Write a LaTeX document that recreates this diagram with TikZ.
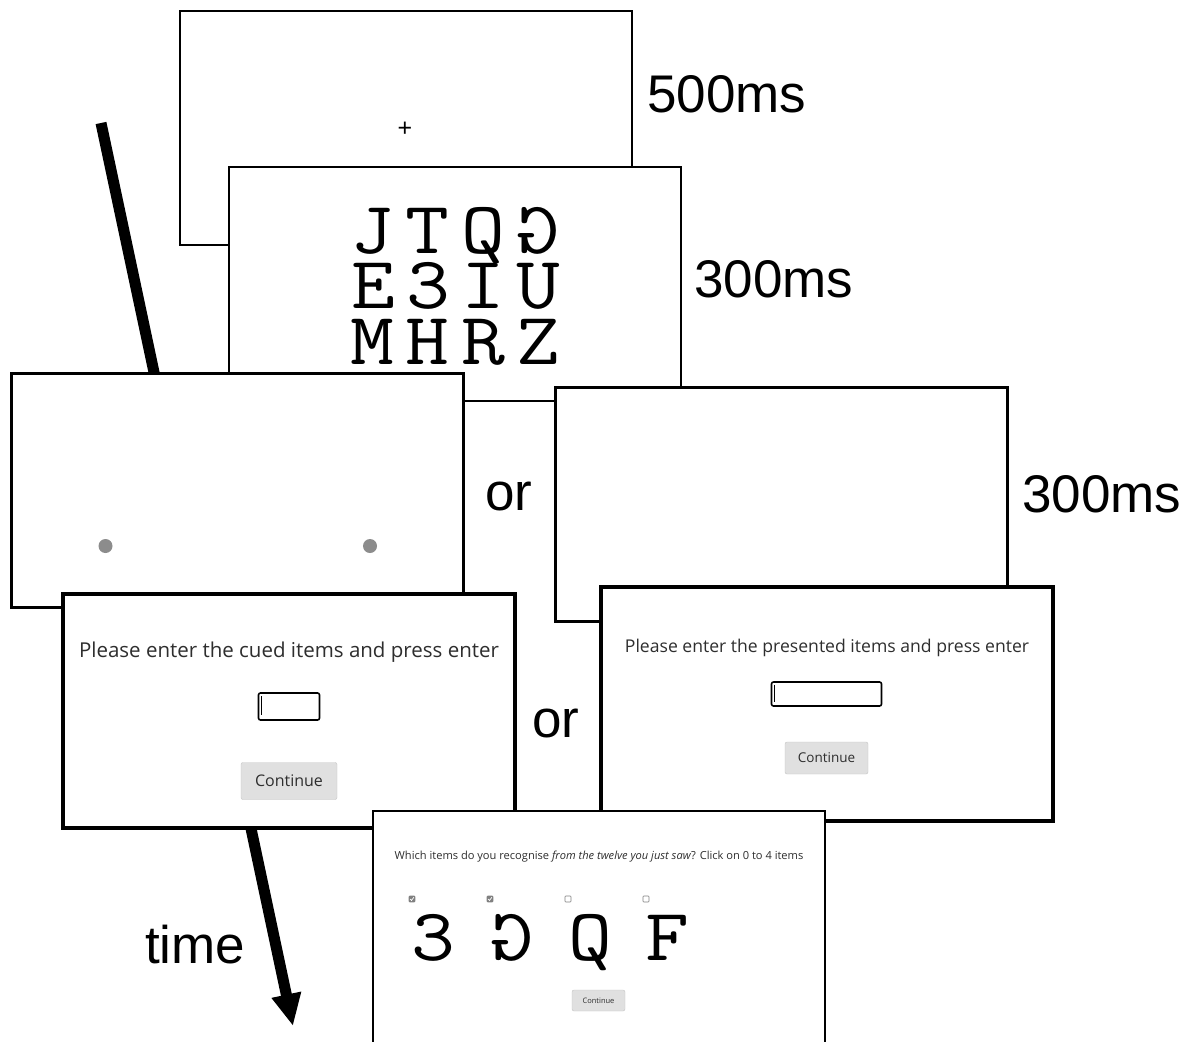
\documentclass[tikz,border=0pt]{standalone}
\usepackage{fontspec}
\usepackage{graphicx}
\setmainfont{Liberation Sans}
\newfontfamily\uifont{Open Sans}
\newfontfamily\letterfont[FakeStretch=1.15]{Latin Modern Mono}
\usetikzlibrary{arrows.meta}
\definecolor{uitext}{HTML}{2E2E2E}
\definecolor{btnfill}{HTML}{E0E0E0}
\definecolor{btnline}{HTML}{C4C4C4}
\definecolor{cuedot}{HTML}{8C8C8C}
\begin{document}
\begin{tikzpicture}[x=1pt, y=-1pt,
  screen/.style={draw, fill=white, line width=2.5pt, minimum width=452, minimum height=234, inner sep=0pt},
  bigscreen/.style={screen, line width=4pt},
  lbl/.style={anchor=base west, inner sep=0pt, font=\fontsize{53}{53}\selectfont},
  glyph/.style={anchor=base, inner sep=0pt, text height=46, text depth=0, font=\letterfont\fontsize{74}{74}\selectfont},
  prompt/.style={inner sep=0pt, text=uitext},
  inbox/.style={draw, line width=1.6pt, rounded corners=2pt, inner sep=0pt},
  button/.style={draw=btnline, fill=btnfill, rounded corners=2pt, text=uitext, inner sep=0pt},
  cbox/.style={draw=gray, line width=0.6pt, minimum size=6, inner sep=0pt, rounded corners=0.8pt}]
\clip (0,0) rectangle (1188,1041);
\fill[white] (0,0) rectangle (1188,1041);

% time line
\coordinate (tstart) at (101,123);
\coordinate (tend) at (293,1026);
\draw[line width=11pt, -{Triangle[length=32pt,width=28pt]}] (tstart) -- (tend);

% fixation
\node[screen] (fix) at (406,128) {};
\node[inner sep=0pt, font=\fontsize{25}{25}\selectfont] (cross) at (405,129) {+};
\node[lbl] (t500) at (647,112) {500ms};

% memory array
\node[screen] (arr) at (455,284) {};
\foreach \ch/\cx/\cy [count=\i] in {J/372/253, T/427/253, Q/483/253, \reflectbox{G}/538/253,
    E/373/308, 3/428/308, I/483/308, U/538/308,
    M/372/364, H/427/364, R/483/364, Z/538/364}
  \node[glyph] (g\i) at (\cx,\cy) {\ch};
\node[lbl] (t300a) at (694,297) {300ms};

% cue and blank
\node[screen] (cue) at (237.5,490.5) {};
\fill[cuedot] (105.5,546) circle (7);
\fill[cuedot] (370,546) circle (7);
\node[lbl] (ora) at (485,510) {or};
\node[screen] (blank) at (781.5,504.5) {};
\node[lbl] (t300b) at (1022,512) {300ms};

% recall screens
\node[bigscreen] (cued) at (289,711) {};
\node[prompt, font=\uifont\fontsize{20.5}{21}\selectfont] (cuedq) at (289,652) {Please enter the cued items and press enter};
\node[inbox, minimum width=61, minimum height=27] (cuedin) at (289,706.5) {};
\draw[line width=1.2pt] ([xshift=4]cuedin.north west) ++(0,4) -- ++(0,19);
\node[button, minimum width=96, minimum height=37, font=\uifont\fontsize{16}{16}\selectfont] (cuedbtn) at (289,781) {Continue};
\node[lbl] (orb) at (532,737) {or};

\node[bigscreen] (pres) at (826.5,703.5) {};
\node[prompt, font=\uifont\fontsize{17.6}{18}\selectfont] (presq) at (827,648) {Please enter the presented items and press enter};
\node[inbox, minimum width=110, minimum height=24] (presin) at (826.5,694) {};
\draw[line width=1.2pt] ([xshift=4]presin.north west) ++(0,3.5) -- ++(0,17);
\node[button, minimum width=83, minimum height=32, font=\uifont\fontsize{13.5}{14}\selectfont] (presbtn) at (826.5,758) {Continue};

% recognition
\node[screen, line width=2pt] (recog) at (599,928) {};
\node[prompt, font=\uifont\fontsize{11.1}{12}\selectfont] (recogq) at (599,857) {Which items do you recognise \textit{from the twelve you just saw}? Click on 0 to 4 items};
\foreach \ch/\cx [count=\i] in {3/433, \reflectbox{G}/512, Q/590, F/667}
  \node[glyph] (r\i) at (\cx,960) {\ch};
\foreach \cx [count=\i] in {412, 490, 568, 646}
  \node[cbox] (cb\i) at (\cx,899) {};
\fill[gray] (cb1.north west) rectangle (cb1.south east);
\fill[gray] (cb2.north west) rectangle (cb2.south east);
\foreach \i in {1,2}
  \draw[white, line width=0.7pt] ([shift={(-1.8,0)}]cb\i.center) -- ([shift={(-0.5,1.5)}]cb\i.center) -- ([shift={(1.9,-1.8)}]cb\i.center);
\node[button, minimum width=53, minimum height=21, font=\uifont\fontsize{7.5}{8}\selectfont] (recogbtn) at (598.5,1000.5) {Continue};

\node[lbl] (tlabel) at (145,963) {time};
\end{tikzpicture}
\end{document}
